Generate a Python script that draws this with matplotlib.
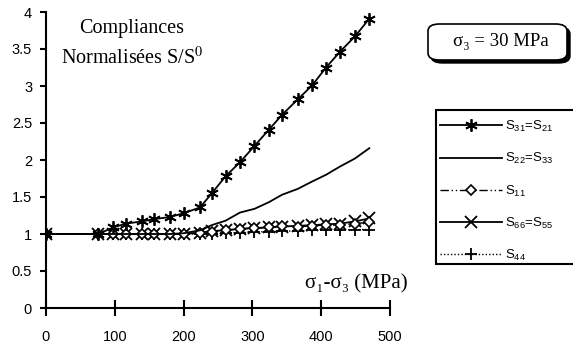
import matplotlib
matplotlib.use("Agg")
import matplotlib.pyplot as plt
from matplotlib.patches import FancyBboxPatch, Rectangle

# sigma1 - sigma3 (MPa)
dev_stress = [0, 76, 98, 116, 139, 157, 180, 200, 224, 241, 261,
              282, 303, 324, 343, 366, 387, 407, 427, 449, 470]

s31 = [1.0, 1.0, 1.09, 1.14, 1.17, 1.20, 1.23, 1.28, 1.36, 1.55, 1.78,
       1.97, 2.19, 2.41, 2.61, 2.82, 3.01, 3.25, 3.46, 3.67, 3.91]
s22 = [1.0, 1.0, 1.0, 1.0, 1.0, 1.0, 1.0, 1.01, 1.05, 1.12, 1.18,
       1.29, 1.34, 1.43, 1.53, 1.61, 1.71, 1.80, 1.91, 2.02, 2.16]
s11 = [1.0, 1.0, 1.0, 1.0, 1.0, 1.0, 1.0, 1.0, 1.01, 1.03, 1.05,
       1.07, 1.08, 1.09, 1.11, 1.10, 1.11, 1.12, 1.12, 1.14, 1.16]
s66 = [1.0, 1.0, 1.0, 1.0, 1.0, 1.0, 1.0, 1.0, 1.02, 1.04, 1.05,
       1.07, 1.08, 1.09, 1.10, 1.11, 1.12, 1.13, 1.14, 1.17, 1.21]
s44 = [1.0, 1.0, 1.0, 1.0, 1.0, 1.0, 1.0, 1.0, 1.0, 1.0, 1.01,
       1.02, 1.03, 1.03, 1.04, 1.04, 1.05, 1.05, 1.05, 1.06, 1.06]

labels = [r"S$_{31}$=S$_{21}$", r"S$_{22}$=S$_{33}$", r"S$_{11}$",
          r"S$_{66}$=S$_{55}$", r"S$_{44}$"]

plt.rcParams["mathtext.fontset"] = "custom"
plt.rcParams["mathtext.rm"] = "Liberation Sans"
plt.rcParams["mathtext.it"] = "Liberation Sans:italic"
plt.rcParams["mathtext.default"] = "rm"

sans = ["Liberation Sans", "DejaVu Sans"]
serif = ["Liberation Serif", "DejaVu Serif"]

fig = plt.figure(figsize=(5.73, 3.47), dpi=100)
ax = fig.add_axes([46 / 573, 39 / 347, 344 / 573, 296 / 347])

ax.plot(dev_stress, s44, color="black", lw=1, ls=(0, (1, 1.5)),
        marker="+", ms=8, mew=1.3, label=labels[4])
ax.plot(dev_stress, s66, color="black", lw=1.3, marker="x", ms=8,
        mew=1.3, label=labels[3])
ax.plot(dev_stress, s11, color="black", lw=1, ls=(0, (6, 2, 1, 2, 1, 2)),
        marker="D", ms=5, mfc="white", mew=1.2, label=labels[2])
ax.plot(dev_stress, s22, color="black", lw=1.3, label=labels[1])
ax.plot(dev_stress, s31, color="black", lw=1.3, marker=(6, 2, 0), ms=9,
        mew=1.3, label=labels[0])

ax.set_xlim(0, 500)
ax.set_ylim(0, 4)
ax.set_xticks([0, 100, 200, 300, 400, 500])
ax.set_yticks([0, 0.5, 1, 1.5, 2, 2.5, 3, 3.5, 4])
ax.set_yticklabels(["0", "0.5", "1", "1.5", "2", "2.5", "3", "3.5", "4"])
for s in ["top", "right"]:
    ax.spines[s].set_visible(False)
for s in ["left", "bottom"]:
    ax.spines[s].set_linewidth(1.5)
ax.tick_params(axis="x", direction="inout", length=11, width=1.5, pad=10)
ax.tick_params(axis="y", direction="out", length=4, width=1.5, pad=6)
for lab in ax.get_xticklabels() + ax.get_yticklabels():
    lab.set_family(sans)
    lab.set_fontsize(10.5)

ax.text(125, 3.78, "Compliances", ha="center", va="center",
        family=serif, fontsize=14.5)
ax.text(125, 3.38, "Normalisées S/S$^0$", ha="center", va="center",
        family=serif, fontsize=14.5, math_fontfamily="stix")
ax.text(376, 0.33, "σ₁-σ₃ (MPa)", ha="left", va="center",
        family=serif, fontsize=15)

# legend frame drawn by hand (runs past the right edge)
fig.patches.append(Rectangle((436 / 573, 1 - 264 / 347), 150 / 573,
                             154 / 347, transform=fig.transFigure,
                             fc="white", ec="black", lw=1.5))
h, l = ax.get_legend_handles_labels()
h, l = h[::-1], l[::-1]
leg = fig.legend(h, l, loc="upper left",
                 bbox_to_anchor=(440 / 573, 1 - 119 / 347),
                 prop={"family": sans, "size": 9.5}, frameon=False,
                 handlelength=4.7, labelspacing=1.3,
                 handletextpad=0.25, borderpad=0, borderaxespad=0)

# rounded box with shadow for sigma3
x0, y0, w, hgt = 428 / 573, 1 - 60 / 347, 139 / 573, 36 / 347
shadow = FancyBboxPatch((x0 + 3 / 573, y0 - 3 / 347), w, hgt,
                        boxstyle="round,pad=0,rounding_size=0.02",
                        transform=fig.transFigure, fc="black", ec="black")
box = FancyBboxPatch((x0, y0), w, hgt,
                     boxstyle="round,pad=0,rounding_size=0.02",
                     transform=fig.transFigure, fc="white", ec="black", lw=1.2)
fig.patches.extend([shadow, box])
fig.text(x0 + w / 2 + 3 / 573, y0 + hgt / 2, "σ₃ = 30 MPa", ha="center",
         va="center", family=serif, fontsize=13.5)

fig.savefig("out.png", dpi=100)
